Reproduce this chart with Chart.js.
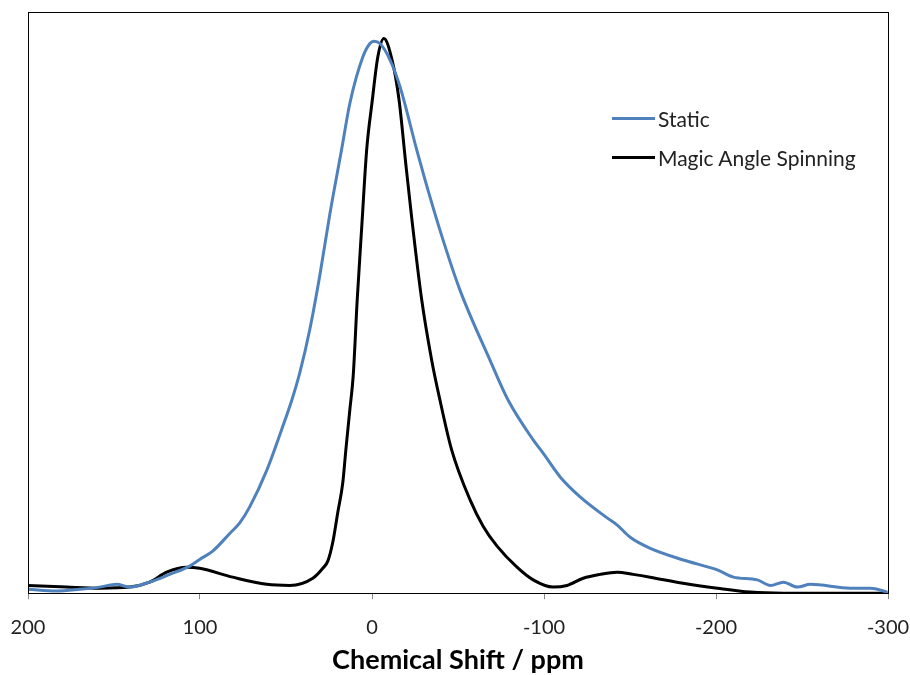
<!DOCTYPE html>
<html>
<head>
<meta charset="utf-8">
<script src="https://cdn.jsdelivr.net/npm/chart.js@4.4.1/dist/chart.umd.min.js"></script>
<style>
  body { margin: 0; background: #fff; }
  #wrap { position: relative; width: 910px; height: 675px; }
  #legend { position: absolute; left: 612px; top: 104px; font-family: Lato, 'Open Sans', sans-serif; font-size: 21px; color: #222; }
  #legend .item { display: flex; align-items: center; height: 28px; margin-bottom: 11px; }
  #legend .swatch { display: inline-block; width: 43px; height: 3px; margin-right: 3px; }
</style>
</head>
<body>
<div id="wrap">
  <canvas id="myChart" width="910" height="675"></canvas>
  <div id="legend"></div>
</div>
<script>
// chemical shift (ppm) and normalised intensity
const staticShift = [200, 183.4, 170.0, 158.4, 148.5, 140.9, 129.3, 117.6, 106.0, 100.2, 92.6, 82.7, 76.9, 71.1, 61.2, 52.6, 46.6, 42.0, 36.2, 30.3, 24.5, 17.7, 12.8, 5.3, 1.2, -1.1, -4.6, -10.4, -16.3, -26.0, -30.8, -39.5, -51.1, -68.6, -79.1, -93.7, -99.5, -109.4, -121.0, -136.7, -142.6, -150.1, -161.8, -181.0, -200.8, -210.1, -224.0, -231.6, -239.2, -247.3, -254.9, -278.2, -289.8, -299.7];
const staticIntensity = [0.007, 0.004, 0.007, 0.011, 0.016, 0.011, 0.020, 0.034, 0.049, 0.061, 0.076, 0.108, 0.127, 0.156, 0.222, 0.295, 0.349, 0.398, 0.476, 0.575, 0.685, 0.801, 0.886, 0.969, 0.993, 0.997, 0.993, 0.964, 0.915, 0.801, 0.747, 0.656, 0.548, 0.421, 0.349, 0.277, 0.253, 0.210, 0.174, 0.136, 0.123, 0.101, 0.081, 0.060, 0.042, 0.029, 0.024, 0.014, 0.020, 0.011, 0.016, 0.009, 0.009, 0.002];

const masShift = [200, 177.6, 158.4, 140.9, 129.3, 119.4, 107.7, 100.2, 81.0, 61.2, 47.8, 34.4, 28.6, 25.7, 22.8, 19.9, 17.0, 15.2, 12.9, 10.9, 8.6, 5.9, 3.1, 0.0, -3.4, -6.9, -11.6, -15.7, -19.7, -23.2, -28.9, -34.7, -39.5, -46.3, -57.1, -64.6, -72.7, -84.3, -93.7, -105.3, -113.4, -122.8, -132.6, -142.5, -151.8, -161.7, -180.9, -200.8, -219.9, -239.2, -299.7];
const masIntensity = [0.014, 0.011, 0.009, 0.011, 0.020, 0.038, 0.047, 0.045, 0.029, 0.016, 0.014, 0.027, 0.045, 0.058, 0.092, 0.146, 0.199, 0.259, 0.331, 0.394, 0.530, 0.665, 0.801, 0.886, 0.969, 1.002, 0.964, 0.892, 0.774, 0.675, 0.530, 0.421, 0.349, 0.259, 0.168, 0.121, 0.085, 0.047, 0.024, 0.011, 0.014, 0.027, 0.034, 0.038, 0.034, 0.029, 0.018, 0.009, 0.002, 0.000, 0.000];

const seriesLabels = ['Static', 'Magic Angle Spinning'];
const xTicks = [200, 100, 0, -100, -200, -300];

function toPoints(xs, ys) {
  return xs.map(function (x, i) { return { x: x, y: ys[i] }; });
}

// box round the plot area
const frame = {
  id: 'frame',
  afterDraw: function (chart) {
    const a = chart.chartArea;
    const c = chart.ctx;
    c.save();
    c.strokeStyle = '#000';
    c.lineWidth = 1;
    c.strokeRect(Math.round(a.left) + 0.5, Math.round(a.top) + 0.5, Math.round(a.right - a.left), Math.round(a.bottom - a.top));
    c.restore();
  }
};

// legend as html so it can sit inside the plot
const htmlLegend = {
  id: 'htmlLegend',
  afterUpdate: function (chart) {
    const box = document.getElementById('legend');
    box.innerHTML = '';
    chart.data.datasets.forEach(function (ds) {
      const row = document.createElement('div');
      row.className = 'item';
      const sw = document.createElement('span');
      sw.className = 'swatch';
      sw.style.background = ds.borderColor;
      const txt = document.createElement('span');
      txt.textContent = ds.label;
      row.appendChild(sw);
      row.appendChild(txt);
      box.appendChild(row);
    });
  }
};

const ctx = document.getElementById('myChart').getContext('2d');
const myChart = new Chart(ctx, {
  type: 'line',
  data: {
    datasets: [
      {
        label: seriesLabels[0],
        data: toPoints(staticShift, staticIntensity),
        borderColor: '#4F81BD',
        borderWidth: 3,
        pointRadius: 0,
        cubicInterpolationMode: 'monotone',
        fill: false
      },
      {
        label: seriesLabels[1],
        data: toPoints(masShift, masIntensity),
        borderColor: '#000000',
        borderWidth: 3,
        pointRadius: 0,
        cubicInterpolationMode: 'monotone',
        fill: false
      }
    ]
  },
  options: {
    responsive: false,
    animation: false,
    layout: { padding: { left: 28, right: 22, top: 12, bottom: 0 } },
    plugins: {
      legend: { display: false },
      tooltip: { enabled: false }
    },
    scales: {
      x: {
        type: 'linear',
        reverse: true,
        min: -300,
        max: 200,
        afterBuildTicks: function (axis) {
          axis.ticks = xTicks.map(function (v) { return { value: v }; });
        },
        afterFit: function (axis) {
          axis.paddingLeft = 0;
          axis.paddingRight = 0;
        },
        grid: { drawOnChartArea: false, drawTicks: true, tickLength: 6, color: '#888' },
        border: { display: true, color: '#888', width: 1 },
        ticks: {
          padding: 16,
          color: '#222',
          font: { family: 'Lato, "Open Sans", sans-serif', size: 20 }
        },
        title: {
          display: true,
          text: 'Chemical Shift / ppm',
          color: '#000',
          padding: { top: 0, bottom: 9 },
          font: { family: 'Lato, "Open Sans", sans-serif', size: 27, weight: 'bold', lineHeight: 0.4 }
        }
      },
      y: {
        display: false,
        min: 0,
        max: 1.05
      }
    }
  },
  plugins: [frame, htmlLegend]
});
</script>
</body>
</html>
